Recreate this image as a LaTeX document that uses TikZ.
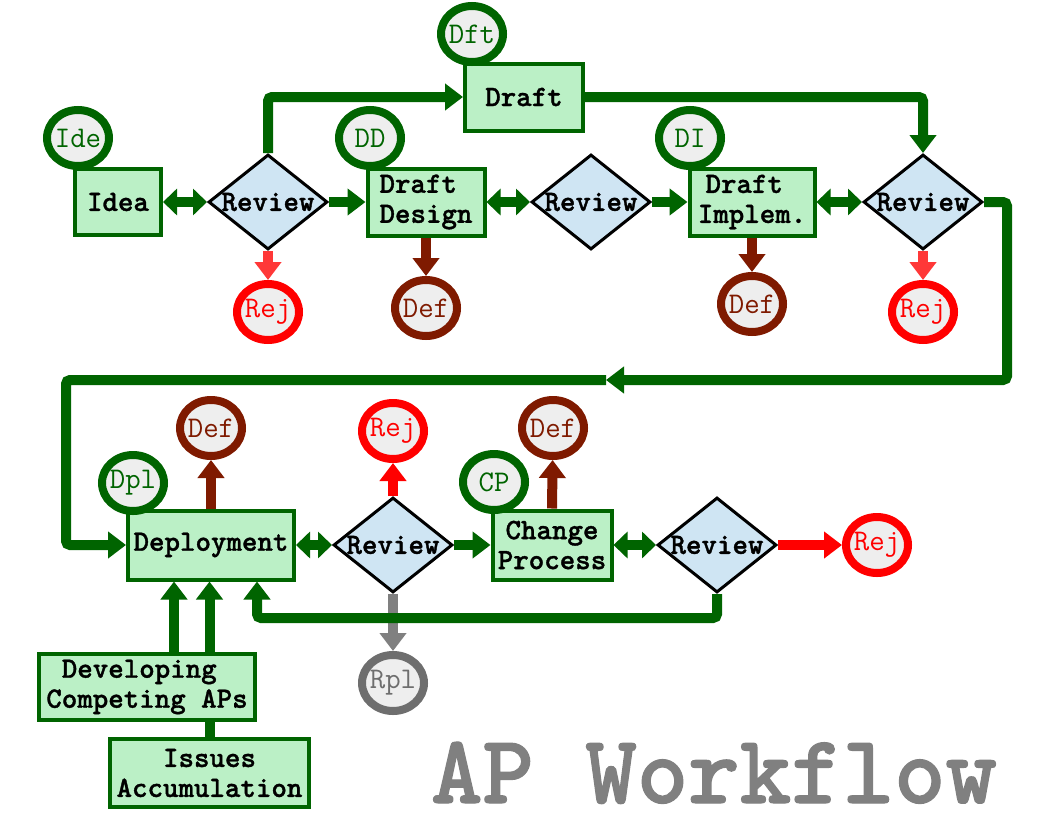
\documentclass[tikz,border=0pt]{standalone}
\usepackage{fontspec}
\newfontfamily\bmono{lmmonolt10-bold.otf}[FakeBold=1.2]
\usetikzlibrary{shapes.geometric,arrows.meta,calc}
\definecolor{dg}{HTML}{006400}
\definecolor{boxfill}{HTML}{BBF0C6}
\definecolor{diafill}{HTML}{CFE5F3}
\definecolor{defc}{HTML}{7F1A00}
\definecolor{rejc}{HTML}{FF0000}
\definecolor{rejl}{HTML}{FF3838}
\definecolor{rplc}{HTML}{808080}
\definecolor{rplring}{HTML}{6E6E6E}
\definecolor{labfill}{HTML}{EEEEEE}
\tikzset{
  bigtri/.tip={Triangle[length=18pt,width=26pt]},
  smtri/.tip={Triangle[length=14pt,width=26pt]},
  box/.style={draw=dg, fill=boxfill, line width=4pt, inner sep=0pt, align=center,
    font=\bmono\fontsize{29.5}{30}\selectfont},
  rev/.style={diamond, draw=black, fill=diafill, line width=3pt, inner sep=0pt,
    minimum width=119pt, minimum height=95pt,
    font=\bmono\fontsize{29.5}{30}\selectfont},
  tag/.style={ellipse, fill=labfill, line width=8pt, inner sep=0pt,
    minimum width=62pt, minimum height=56pt,
    font=\ttfamily\fontsize{30}{30}\selectfont},
  gtag/.style={tag, draw=dg, text=dg},
  deftag/.style={tag, draw=defc, text=defc},
  rejtag/.style={tag, draw=rejc, text=rejc},
  rpltag/.style={tag, draw=rplring, text=rplring},
  fl/.style={line width=10pt, draw=dg, -bigtri, rounded corners=4pt},
  dfl/.style={line width=10pt, draw=dg, smtri-smtri},
  defl/.style={line width=10pt, draw=defc, -bigtri},
  rejfl/.style={line width=10pt, draw=rejc, -bigtri},
  rejlfl/.style={line width=10pt, draw=rejl, -bigtri},
  rplfl/.style={line width=10pt, draw=rplc, -bigtri},
}
\begin{document}
\begin{tikzpicture}[x=1pt,y=-1pt]
\useasboundingbox (0,0) rectangle (1056,816);
\fill[white] (0,0) rectangle (1056,816);

% boxes
\node[box, minimum width=86pt, minimum height=66pt] (idea) at (118,202) {Idea};
\node[box, minimum width=118pt, minimum height=67pt] (draft) at (524,97) {Draft};
\node[box, minimum width=117pt, minimum height=67pt] (dd) at (426,202) {Draft\hphantom{x}\\Design};
\node[box, minimum width=125pt, minimum height=67pt] (di) at (752,202) {Draft\hphantom{x}\\Implem.};
\node[box, minimum width=166pt, minimum height=69pt] (dep) at (211,545) {Deployment};
\node[box, minimum width=119pt, minimum height=69pt] (cp) at (552,545) {Change\\Process};
\node[box, minimum width=199pt, minimum height=68pt] (iss) at (209.5,773) {Issues\\Accumulation};

% diamonds
\node[rev] (r1) at (268,202) {\makebox[0pt]{Review}};
\node[rev] (r2) at (591,202) {\makebox[0pt]{Review}};
\node[rev] (r3) at (923,202) {\makebox[0pt]{Review}};
\node[rev] (r4) at (393,545) {\makebox[0pt]{Review}};
\node[rev] (r5) at (717,545) {\makebox[0pt]{Review}};

% outcome tags
\node[deftag] (def1) at (426,308) {\makebox[0pt]{Def}};
\node[deftag] (def2) at (752,304) {\makebox[0pt]{Def}};
\node[rejtag] (rej1) at (268,312) {\makebox[0pt]{Rej}};
\node[rejtag] (rej2) at (923,312) {\makebox[0pt]{Rej}};
\node[deftag] (def3) at (211,428) {\makebox[0pt]{Def}};
\node[rejtag] (rej3) at (393,431) {\makebox[0pt]{Rej}};
\node[deftag] (def4) at (553,428) {\makebox[0pt]{Def}};
\node[rejtag] (rej4) at (877,545) {\makebox[0pt]{Rej}};
\node[rpltag] (rpl) at (393,683) {\makebox[0pt]{Rpl}};

% issues -> deployment (behind developing box)
\draw[fl] (iss.north) -- (iss.north |- dep.south);
\node[box, minimum width=216pt, minimum height=66pt] (dev) at (147,687) {Developing\hphantom{x}\\Competing APs};
\coordinate (d1) at ([xshift=27pt]dev.north);
\draw[fl] (d1) -- (d1 |- dep.south);

% row 1 connectors
\draw[dfl] (idea) -- (r1);
\draw[fl] (r1.north) |- (draft.west);
\draw[fl] (r1) -- (dd);
\draw[rejlfl] (r1) -- (rej1);
\draw[fl] (draft.east) -| (r3.north);
\draw[defl] (dd) -- (def1);
\draw[dfl] (dd) -- (r2);
\draw[fl] (r2) -- (di);
\draw[defl] (di) -- (def2);
\draw[dfl] (di) -- (r3);
\draw[rejlfl] (r3) -- (rej2);

% long return path
\coordinate (k1) at (1007,380);
\coordinate (k2) at (606,380);
\coordinate (k3) at (66,380);
\draw[fl] (r3.east) -| (k1) -- (k2);
\draw[fl] (k2) -- (k3) |- (dep.west);

% row 2 connectors
\draw[dfl] (dep) -- (r4);
\draw[defl] (dep.north) -- (def3);
\draw[rejfl] (r4) -- (rej3);
\draw[rplfl] (r4) -- (rpl);
\draw[fl] (r4) -- (cp);
\draw[defl] (cp.north) -- (def4);
\draw[dfl] (cp) -- (r5);
\draw[rejfl] (r5) -- (rej4);
\draw[fl] (r5.south) -- ++(0,24) -| ([xshift=46pt]dep.south);

% stage tags (on top of boxes)
\node[gtag] (ide) at (78,138) {\makebox[0pt]{Ide}};
\node[gtag] (dft) at (472,34) {\makebox[0pt]{Dft}};
\node[gtag] (ddt) at (370,138) {\makebox[0pt]{DD}};
\node[gtag] (dit) at (690,138) {\makebox[0pt]{DI}};
\node[gtag] (dpl) at (133,483) {\makebox[0pt]{Dpl}};
\node[gtag] (cpt) at (494,482) {\makebox[0pt]{CP}};

% title
\node[anchor=base, text=rplc, inner sep=0pt, font=\bmono\fontsize{98}{100}\selectfont] (title) at (714,803) {AP Workflow};
\end{tikzpicture}
\end{document}
